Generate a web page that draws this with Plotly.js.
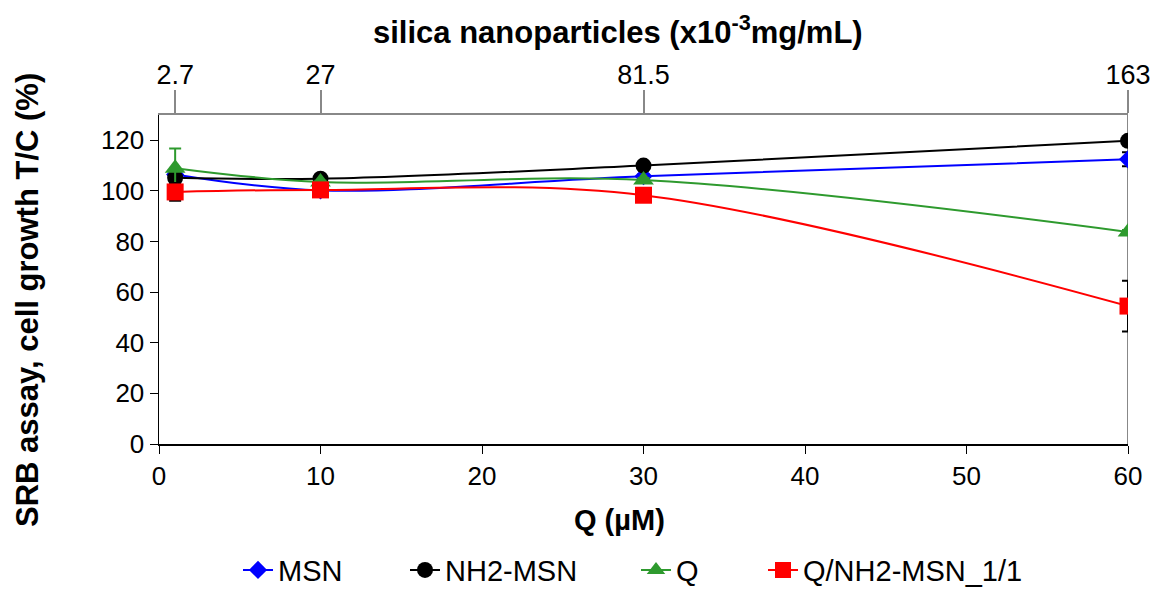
<!DOCTYPE html>
<html>
<head>
<meta charset="utf-8">
<script src="https://cdn.plot.ly/plotly-3.0.1.min.js"></script>
<style>html,body{margin:0;padding:0;background:#fff;}#chart{width:1156px;height:592px;}</style>
</head>
<body>
<div id="chart"></div>
<script>
const qConc = [1, 10, 30, 60];
const silicaLabels = ['2.7', '27', '81.5', '163'];
const yTicks = [0, 20, 40, 60, 80, 100, 120];

const msn = [106.5, 100.2, 105.8, 112.5];
const msnErr = [1.5, 0.5, 0.8, 2.8];
const nh2msn = [105.2, 104.8, 110.0, 119.8];
const nh2msnErr = [1.5, 0.8, 0.8, 0.5];
const q = [109.0, 103.5, 104.3, 83.8];
const qErr = [7.8, 0.5, 0.8, 0.8];
const qnh2 = [99.6, 100.4, 98.3, 54.5];
const qnh2Err = [3.5, 0.8, 0.8, 10];

const font = 'Liberation Sans, Arial, sans-serif';

function series(name, y, err, color, symbol, size, errColor, legendId) {
  return {
    x: qConc, y: y, name: name, type: 'scatter', mode: 'lines+markers',
    line: {color: color, width: 2, shape: 'spline', smoothing: 1},
    marker: {color: color, symbol: symbol, size: size},
    error_y: {type: 'data', array: err, visible: true, color: errColor, thickness: 2, width: 6},
    xaxis: 'x', yaxis: 'y', legend: legendId
  };
}

const traces = [
  series('MSN', msn, msnErr, '#0000ff', 'diamond', 14, '#000', 'legend'),
  series('NH2-MSN', nh2msn, nh2msnErr, '#000000', 'circle', 16, '#000', 'legend2'),
  series('Q', q, qErr, '#2e9a2e', 'triangle-up', 18, '#2e9a2e', 'legend3'),
  series('Q/NH2-MSN_1/1', qnh2, qnh2Err, '#ff0000', 'square', 17, '#000', 'legend4'),
  {x: [qConc[0]], y: [null], xaxis: 'x2', yaxis: 'y', showlegend: false, hoverinfo: 'skip', mode: 'markers'}
];

function leg(px) {
  return {
    orientation: 'h', xref: 'container', x: px / 1156, xanchor: 'left',
    yref: 'container', y: 0.037, yanchor: 'middle',
    font: {size: 29, family: font}, bgcolor: 'rgba(0,0,0,0)'
  };
}

const layout = {
  width: 1156, height: 592,
  margin: {l: 159, r: 28, t: 115, b: 148},
  paper_bgcolor: '#fff', plot_bgcolor: '#fff',
  font: {family: font, color: '#000'},
  xaxis: {
    range: [0, 60], tickvals: [0, 10, 20, 30, 40, 50, 60],
    ticks: 'outside', ticklen: 8, tickcolor: '#000', tickwidth: 1,
    showline: true, linecolor: '#000', linewidth: 1.5,
    showgrid: false, zeroline: false, automargin: false,
    tickfont: {size: 26, family: font}
  },
  xaxis2: {
    overlaying: 'x', side: 'top', range: [0, 60], anchor: 'y',
    tickmode: 'array', tickvals: qConc, ticktext: silicaLabels,
    ticks: 'outside', ticklen: 23, tickcolor: '#888', tickwidth: 2,
    showline: true, linecolor: '#888', linewidth: 2,
    showgrid: false, zeroline: false, automargin: false,
    ticklabelstandoff: -5,
    tickfont: {size: 27, family: font}
  },
  yaxis: {
    range: [0, 130], tickvals: yTicks,
    ticks: 'outside', ticklen: 8, tickcolor: '#000', tickwidth: 1,
    showline: true, linecolor: '#000', linewidth: 1.5,
    showgrid: false, zeroline: false, automargin: false,
    tickfont: {size: 26, family: font}
  },
  annotations: [
    {text: '<b>silica nanoparticles (x10<sup>-3</sup>mg/mL)</b>', xref: 'paper', yref: 'paper',
     x: 0.4737, y: 1.2584, xanchor: 'center', yanchor: 'middle', showarrow: false,
     font: {size: 31, family: font, color: '#000'}},
    {text: '<b>Q (µM)</b>', xref: 'paper', yref: 'paper',
     x: 0.4757, y: -0.231, xanchor: 'center', yanchor: 'middle', showarrow: false,
     font: {size: 29, family: font, color: '#000'}},
    {text: '<b>SRB assay, cell growth T/C (%)</b>', xref: 'paper', yref: 'paper', textangle: -90,
     x: -0.1352, y: 0.4377, xanchor: 'center', yanchor: 'middle', showarrow: false,
     font: {size: 31, family: font, color: '#000'}}
  ],
  shapes: [
    {type: 'line', xref: 'x', yref: 'paper', x0: 60, x1: 60, y0: 0, y1: 1, line: {color: '#888', width: 2}, layer: 'below'}
  ],
  legend: leg(238),
  legend2: leg(405),
  legend3: leg(636),
  legend4: leg(763),
  showlegend: true
};

Plotly.newPlot('chart', traces, layout, {displayModeBar: false, staticPlot: true});
</script>
</body>
</html>
